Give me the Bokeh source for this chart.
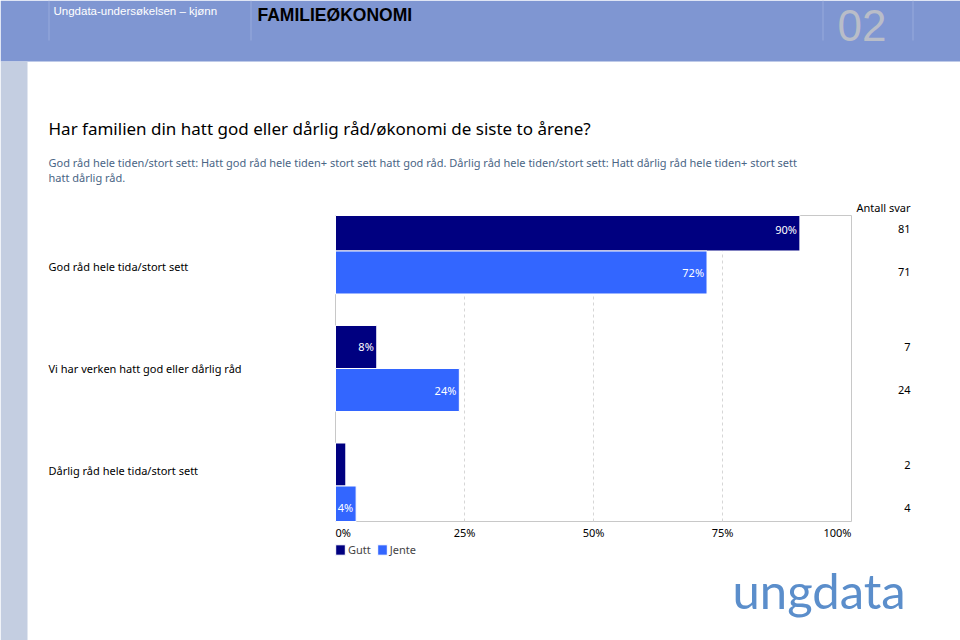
from bokeh.plotting import figure
from bokeh.models import (Range1d, ColumnDataSource, Label, LabelSet, BoxAnnotation,
                          Legend, LegendItem)
from bokeh.core.properties import value
from bokeh.embed import file_html
from bokeh.resources import INLINE

# ---------------- data ----------------
categories = ["God råd hele tida/stort sett",
              "Vi har verken hatt god eller dårlig råd",
              "Dårlig råd hele tida/stort sett"]
series_names = ["Gutt", "Jente"]
gutt_pct = [90, 8, 2]
jente_pct = [72, 24, 4]
gutt_n = [81, 7, 2]
jente_n = [71, 24, 4]
x_ticks = [0, 25, 50, 75, 100]
x_tick_labels = ["0%", "25%", "50%", "75%", "100%"]
series_colors = ["#000080", "#3366FF"]

header_left = "Ungdata-undersøkelsen – kjønn"
header_mid = "FAMILIEØKONOMI"
header_num = "02"
title = "Har familien din hatt god eller dårlig råd/økonomi de siste to årene?"
subtitle_1 = ("God råd hele tiden/stort sett: Hatt god råd hele tiden+ stort sett hatt god råd. "
              "Dårlig råd hele tiden/stort sett: Hatt dårlig råd hele tiden+ stort sett")
subtitle_2 = "hatt dårlig råd."
count_header = "Antall svar"
logo_text = "ungdata"

# ---------------- layout ----------------
W, H = 960, 640
FL, FR, FT, FB = 335, 851, 215, 521   # chart area edges in page pixels
FONT = "Noto Sans"
FS = "11px"

n = len(categories)
centers = [n - 1 - i for i in range(n)]
BH = 0.366
y_lo, y_hi = -0.302, (n - 1) + 0.302

ppx = (FR - FL) / 100.0            # pixels per percent
ppy = (FB - FT) / (y_hi - y_lo)    # pixels per category unit

# the plotting frame is the whole page; chart coordinates are extended to it
x_range = Range1d(-FL / ppx, (W - FL) / ppx)
y_range = Range1d(y_hi - (H - FT) / ppy, y_hi + FT / ppy)

p = figure(width=W, height=H, output_backend="svg", toolbar_location=None,
           x_range=x_range, y_range=y_range,
           x_axis_location=None, y_axis_location=None,
           min_border=0)
p.background_fill_color = "white"
p.border_fill_color = "white"
p.outline_line_color = None
p.grid.visible = False


def SX(cx):
    return cx


def SY(cy):
    return H - cy


def box(x0, y0, x1, y1, color, level="underlay"):
    p.add_layout(BoxAnnotation(left=SX(x0), right=SX(x1), top=SY(y0), bottom=SY(y1),
                               left_units="screen", right_units="screen",
                               top_units="screen", bottom_units="screen",
                               fill_color=color, fill_alpha=1, line_color=None,
                               level=level))


def label(x, y, text, size, color="#000000", font=FONT, style="normal", align="left"):
    p.add_layout(Label(x=SX(x), y=SY(y), x_units="screen", y_units="screen",
                       text=text, text_font=font, text_font_size=size,
                       text_font_style=style, text_color=color,
                       text_align=align, text_baseline="middle"))


# page decoration
box(0, 0, W, 61, "#7F96D2")
box(0, 61, 27, H, "#C4CEE1")
for sx_ in [48, 250, 822, 912]:
    box(sx_, 0, sx_ + 1, 40, "#97AADC", level="annotation")

# chart frame and dashed grid
p.quad(left=[0], right=[100], bottom=[y_lo], top=[y_hi],
       fill_color=None, line_color="#C8C8C8", line_width=1)
grid_x = [t for t in x_ticks if 0 < t < 100]
p.segment(x0=grid_x, x1=grid_x, y0=[y_lo] * len(grid_x), y1=[y_hi] * len(grid_x),
          line_color="#D6D6D6", line_dash="3 3", line_width=1)

# bars
series_vals = [gutt_pct, jente_pct]
series_counts = [gutt_n, jente_n]
offsets = [BH / 2, -BH / 2]
renderers = []
for name, vals, cnts, col, off in zip(series_names, series_vals, series_counts,
                                      series_colors, offsets):
    ys = [c + off for c in centers]
    src = ColumnDataSource(dict(
        y=ys, right=vals, left=[0] * n,
        top=[min(y + BH / 2, y_hi) for y in ys],
        bottom=[max(y - BH / 2, y_lo) for y in ys],
        cnt=[str(c) for c in cnts],
        cx=[SX(910)] * n))
    r = p.quad(left="left", right="right", top="top", bottom="bottom", source=src,
               fill_color=col, line_color="white", line_width=1)
    renderers.append(r)
    keep = [i for i, v in enumerate(vals) if v >= 3]
    vsrc = ColumnDataSource(dict(x=[vals[i] for i in keep], y=[ys[i] for i in keep],
                                 t=[f"{vals[i]}%" for i in keep]))
    p.text(x="x", y="y", text="t", source=vsrc, x_offset=-3,
           text_align="right", text_baseline="middle", text_color="white",
           text_font=value(FONT), text_font_size=FS)
    p.add_layout(LabelSet(x="cx", y="y", text="cnt", source=src,
                          x_units="screen", y_units="data",
                          text_align="right", text_baseline="middle",
                          text_font=value(FONT), text_font_size=FS,
                          text_color="#000000"))

# x tick labels under the chart
aligns = ["left"] + ["center"] * (len(x_ticks) - 2) + ["right"]
for t, lab, al in zip(x_ticks, x_tick_labels, aligns):
    p.text(x=[t], y=[y_lo], text=[lab], y_offset=11, text_align=al,
           text_baseline="middle", text_color="#000000",
           text_font=value(FONT), text_font_size=FS)

# category labels (evenly spaced down the chart area)
span = y_hi - y_lo
cat_y = [y_hi - (k + 0.5) * span / n for k in range(n)]
csrc = ColumnDataSource(dict(x=[SX(48)] * n, y=cat_y, t=categories))
p.add_layout(LabelSet(x="x", y="y", text="t", source=csrc,
                      x_units="screen", y_units="data",
                      text_align="left", text_baseline="middle",
                      text_font=value(FONT), text_font_size=FS,
                      text_color="#000000"))

# legend
legend = Legend(items=[LegendItem(label=nm, renderers=[r])
                       for nm, r in zip(series_names, renderers)],
                orientation="horizontal", location=(FL - 1, SY(557)),
                glyph_width=12, glyph_height=13, label_height=13,
                label_standoff=2, spacing=5, padding=0, margin=0,
                border_line_color=None, background_fill_alpha=0,
                label_text_font=FONT, label_text_font_size=FS)
p.add_layout(legend, "center")

# texts
label(53, 10, header_left, "11.5px", color="white", font="Liberation Sans")
label(257, 14, header_mid, "17.5px", color="#000000", font="Liberation Sans", style="bold")
label(837, 24.5, header_num, "44px", color="#B9BDC8", font="Liberation Sans")

label(48, 128, title, "17px")
label(48, 162, subtitle_1, "11px", color="#4A6585")
label(48, 177, subtitle_2, "11px", color="#4A6585")
label(910, 207, count_header, FS, align="right")
label(732, 589, logo_text, "49px", color="#5B8ECB", font="Lato")

open("out.html", "w").write(file_html(p, INLINE))
